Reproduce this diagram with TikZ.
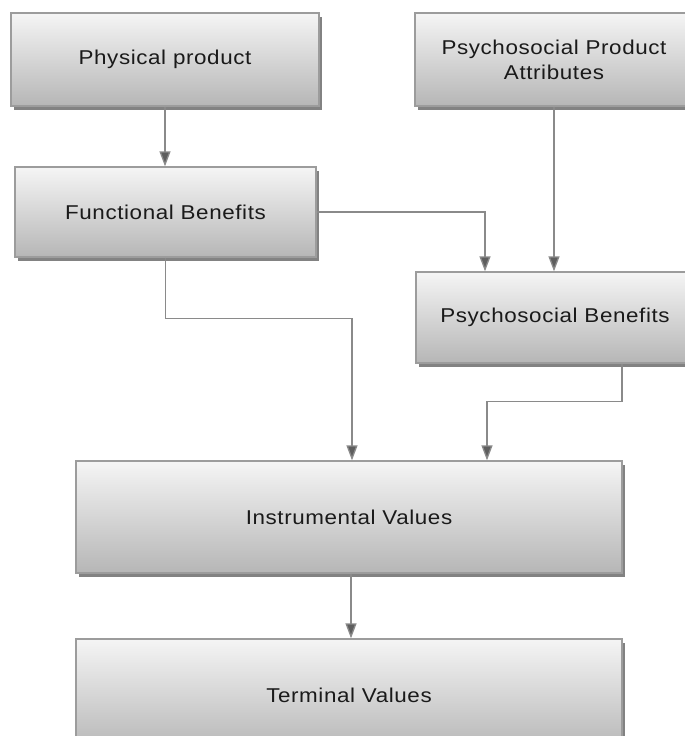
\documentclass[tikz,border=0pt]{standalone}
\usepackage{fontspec}
\setmainfont{Liberation Sans}[FakeStretch=1.12,LetterSpace=3]
\usetikzlibrary{arrows.meta,shadows,calc}
\definecolor{boxtop}{HTML}{F5F5F5}
\definecolor{boxmid}{HTML}{DCDCDC}
\definecolor{boxbot}{HTML}{B6B6B6}
\definecolor{boxline}{HTML}{9C9C9C}
\definecolor{conline}{HTML}{8A8A8A}
\definecolor{tipcol}{HTML}{5E5E5E}
\definecolor{txtcol}{HTML}{1A1A1A}
\tikzset{
  gbox/.style={rectangle, draw=boxline, line width=1.3pt,
    top color=boxtop, middle color=boxmid, bottom color=boxbot,
    drop shadow={shadow xshift=3pt, shadow yshift=-4pt, fill=black!65, opacity=0.75},
    text=txtcol, align=center, inner sep=0pt,
    font=\fontsize{20}{25}\selectfont},
  conn/.style={draw=conline, line width=1.3pt,
    -{Triangle[width=11pt,length=15pt,fill=tipcol]}}
}
\begin{document}
\begin{tikzpicture}[x=1pt,y=-1pt]
\useasboundingbox (0,0) rectangle (685,736);
\clip (0,0) rectangle (685,736);
\fill[white] (0,0) rectangle (685,736);

\node[gbox, minimum width=308pt, minimum height=93pt] (phys) at (165,59.5) {Physical product};
\node[gbox, minimum width=278pt, minimum height=93pt] (ppa) at (554,59.5) {Psychosocial Product\\Attributes};
\node[gbox, minimum width=301pt, minimum height=90pt] (func) at (165.5,212) {Functional Benefits};
\node[gbox, minimum width=278pt, minimum height=91pt] (psb) at (555,317.5) {Psychosocial Benefits};
\node[gbox, minimum width=546pt, minimum height=112pt] (inst) at (349,517) {Instrumental Values};
\node[gbox, minimum width=546pt, minimum height=112pt] (term) at (349,695) {Terminal Values};

\draw[conn] (phys.south) -- (phys.south |- func.north);
\draw[conn] (ppa.south) -- (ppa.south |- psb.north);
\draw[conn] (func.east) -| ([xshift=-70pt]psb.north);
\draw[conn] (func.south) -- ++(0,61) -| ([xshift=3pt]inst.north);
\draw[conn] ([xshift=67pt]psb.south) -- ++(0,38) -| ([xshift=138pt]inst.north);
\draw[conn] ([xshift=2pt]inst.south) -- ([xshift=2pt]term.north);
\end{tikzpicture}
\end{document}
